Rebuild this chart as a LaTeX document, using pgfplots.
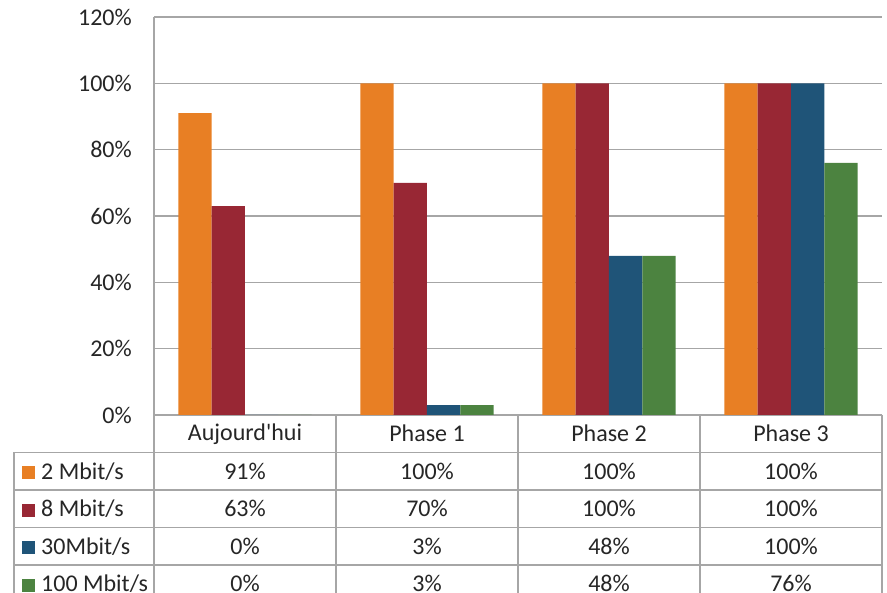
\documentclass[border=0pt]{standalone}
\usepackage{pgfplots}
\pgfplotsset{compat=1.18}
\usepackage{fontspec}
\setmainfont{Carlito}
\definecolor{corange}{HTML}{E87F24}
\definecolor{cred}{HTML}{982734}
\definecolor{cblue}{HTML}{1F5478}
\definecolor{cgreen}{HTML}{4C8340}
\definecolor{gline}{HTML}{A6A6A6}
\definecolor{txt}{HTML}{262626}
\newcommand{\key}[1]{\textcolor{#1}{\rule{13pt}{13pt}}}
\begin{document}
\fontsize{24}{28}\selectfont
\begin{tikzpicture}
\path[use as bounding box] (-154pt,-178pt) rectangle (733pt,415pt);
\begin{axis}[
  at={(0,0)}, anchor=south west,
  scale only axis, width=728pt, height=398pt,
  xmin=-0.5, xmax=3.5, ymin=0, ymax=120,
  xtick=\empty,
  ytick={0,20,40,60,80,100,120},
  yticklabel={\pgfmathprintnumber{\tick}\%},
  /pgf/number format/assume math mode=true,
  yticklabel style={text=txt, font=\fontsize{24}{28}\selectfont, xshift=-14pt},
  major tick length=0pt,
  axis lines*=left,
  axis line style={draw=gline, line width=1.3pt, -},
  ymajorgrids, grid style={draw=gline, line width=1.3pt},
  ybar=0pt, bar width=33.3pt,
  clip=false,
]
\addplot[fill=corange, draw=none] coordinates {(0,91) (1,100) (2,100) (3,100)};
\addplot[fill=cred, draw=none] coordinates {(0,63) (1,70) (2,100) (3,100)};
\addplot[fill=cblue, draw=none] coordinates {(0,0) (1,3) (2,48) (3,100)};
\addplot[fill=cgreen, draw=none] coordinates {(0,0) (1,3) (2,48) (3,76)};
\end{axis}
% data table
\begin{scope}[draw=gline, line width=1.3pt]
\draw (0pt,-37.5pt) -- (728pt,-37.5pt);
\foreach \y in {-75,-112.5,-150,-187.5} \draw (-140pt,\y pt) -- (728pt,\y pt);
\draw (-140pt,-37.5pt) -- (-140pt,-200pt);
\foreach \x in {0,182,364,546,728} \draw (\x pt,0pt) -- (\x pt,-200pt);
\draw (-140pt,-37.5pt) -- (0pt,-37.5pt);
\end{scope}
\begin{scope}[every node/.style={text=txt, inner sep=0pt}]
\node at (91pt,-18.75pt) {Aujourd\textquotesingle hui};
\node at (273pt,-18.75pt) {Phase 1};
\node at (455pt,-18.75pt) {Phase 2};
\node at (637pt,-18.75pt) {Phase 3};
\node[anchor=west] at (-132pt,-56.25pt) {\key{corange}\hspace{6pt}2 Mbit/s};
\node[anchor=west] at (-132pt,-93.75pt) {\key{cred}\hspace{6pt}8 Mbit/s};
\node[anchor=west] at (-132pt,-131.25pt) {\key{cblue}\hspace{6pt}30Mbit/s};
\node[anchor=west] at (-132pt,-168.75pt) {\key{cgreen}\hspace{6pt}100 Mbit/s};
\node at (91pt,-56.25pt) {91\%};
\node at (273pt,-56.25pt) {100\%};
\node at (455pt,-56.25pt) {100\%};
\node at (637pt,-56.25pt) {100\%};
\node at (91pt,-93.75pt) {63\%};
\node at (273pt,-93.75pt) {70\%};
\node at (455pt,-93.75pt) {100\%};
\node at (637pt,-93.75pt) {100\%};
\node at (91pt,-131.25pt) {0\%};
\node at (273pt,-131.25pt) {3\%};
\node at (455pt,-131.25pt) {48\%};
\node at (637pt,-131.25pt) {100\%};
\node at (91pt,-168.75pt) {0\%};
\node at (273pt,-168.75pt) {3\%};
\node at (455pt,-168.75pt) {48\%};
\node at (637pt,-168.75pt) {76\%};
\end{scope}
\end{tikzpicture}
\end{document}
